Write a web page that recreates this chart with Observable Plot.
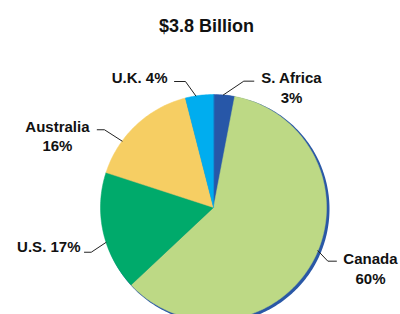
<!DOCTYPE html>
<html>
<head>
<meta charset="utf-8">
<script src="https://cdn.jsdelivr.net/npm/d3@7"></script>
<script src="https://cdn.jsdelivr.net/npm/@observablehq/plot@0.6"></script>
<style>
  html, body { margin: 0; padding: 0; background: #fff; }
</style>
</head>
<body>
<div id="chart"></div>
<script>
// ---- data ----
const title = "$3.8 Billion";
const categories = ["S. Africa", "Canada", "U.S.", "Australia", "U.K."];
const shares = [3, 60, 17, 16, 4];
const colors = ["#2757a8", "#bdd985", "#00aa6b", "#f6ce63", "#00adef"];
const labelTexts = ["S. Africa\n3%", "Canada\n60%", "U.S. 17%", "Australia\n16%", "U.K. 4%"];

// ---- label layout (pie-radius units, centre at 0,0) ----
const labelLayout = [
  {anchorDeg: 5,     elbow: [0.268, 1.118],  end: [0.357, 1.118],   text: [0.690, 1.068],  textAnchor: "middle"},
  {anchorDeg: 112.5, elbow: [1.012, -0.475], end: [1.088, -0.475],  text: [1.389, -0.533], textAnchor: "middle"},
  {anchorDeg: 252,   elbow: [-1.082, -0.396], end: [-1.142, -0.396], text: [-1.177, -0.341], textAnchor: "end"},
  {anchorDeg: 306,   elbow: [-0.965, 0.688], end: [-1.029, 0.688],  text: [-1.381, 0.639], textAnchor: "middle"},
  {anchorDeg: 351,   elbow: [-0.248, 1.115], end: [-0.345, 1.115],  text: [-0.407, 1.155], textAnchor: "end"}
];

// ---- build slices from data ----
const total = d3.sum(shares);
const slicePts = [];
let acc = 0;
categories.forEach((name, i) => {
  const a0 = acc / total * 2 * Math.PI;
  acc += shares[i];
  const a1 = acc / total * 2 * Math.PI;
  slicePts.push({name, x: 0, y: 0});
  const n = Math.max(2, Math.ceil((a1 - a0) / (Math.PI / 180)));
  for (let k = 0; k <= n; k++) {
    const a = a0 + (a1 - a0) * k / n;
    slicePts.push({name, x: Math.sin(a), y: Math.cos(a)});
  }
});
const circlePts = d3.range(0, 361, 1).map(d => ({x: Math.sin(d * Math.PI / 180), y: Math.cos(d * Math.PI / 180)}));

const leaders = [];
labelLayout.forEach((l, i) => {
  const a = l.anchorDeg * Math.PI / 180;
  leaders.push({name: categories[i], x: Math.sin(a), y: Math.cos(a)});
  leaders.push({name: categories[i], x: l.elbow[0], y: l.elbow[1]});
  leaders.push({name: categories[i], x: l.end[0], y: l.end[1]});
});
const labels = labelLayout.map((l, i) => ({text: labelTexts[i], x: l.text[0], y: l.text[1], anchor: l.textAnchor}));

const W = 400, H = 314, R = 113, CX = 213, CY = 207;

const chart = Plot.plot({
  width: W, height: H,
  margin: 0,
  style: {fontFamily: "'Liberation Sans', Arial, sans-serif", background: "#fff"},
  x: {domain: [-CX / R, (W - CX) / R], axis: null},
  y: {domain: [-(H - CY) / R, CY / R], axis: null},
  color: {domain: categories, range: colors},
  marks: [
    Plot.line(circlePts, {x: "x", y: "y", curve: "linear-closed", fill: "#2a58a6", stroke: "#2a58a6", strokeWidth: 2, dx: 2, dy: 1.5}),
    Plot.line(slicePts, {x: "x", y: "y", z: "name", fill: "name", stroke: "name", strokeWidth: 0.5, curve: "linear-closed"}),
    Plot.line(leaders, {x: "x", y: "y", z: "name", stroke: "#222", strokeWidth: 1}),
    Plot.text(labels.filter(d => d.anchor === "middle"), {x: "x", y: "y", text: "text", textAnchor: "middle", fontSize: 15, fontWeight: "bold", fill: "#111", lineHeight: 1.3}),
    Plot.text(labels.filter(d => d.anchor === "end"), {x: "x", y: "y", text: "text", textAnchor: "end", fontSize: 15, fontWeight: "bold", fill: "#111", lineHeight: 1.3}),
    Plot.text([title], {text: d => d, frameAnchor: "top", dx: 6, dy: 19, fontSize: 18, fontWeight: "bold", fill: "#111"})
  ]
});
document.getElementById("chart").appendChild(chart);
</script>
</body>
</html>
